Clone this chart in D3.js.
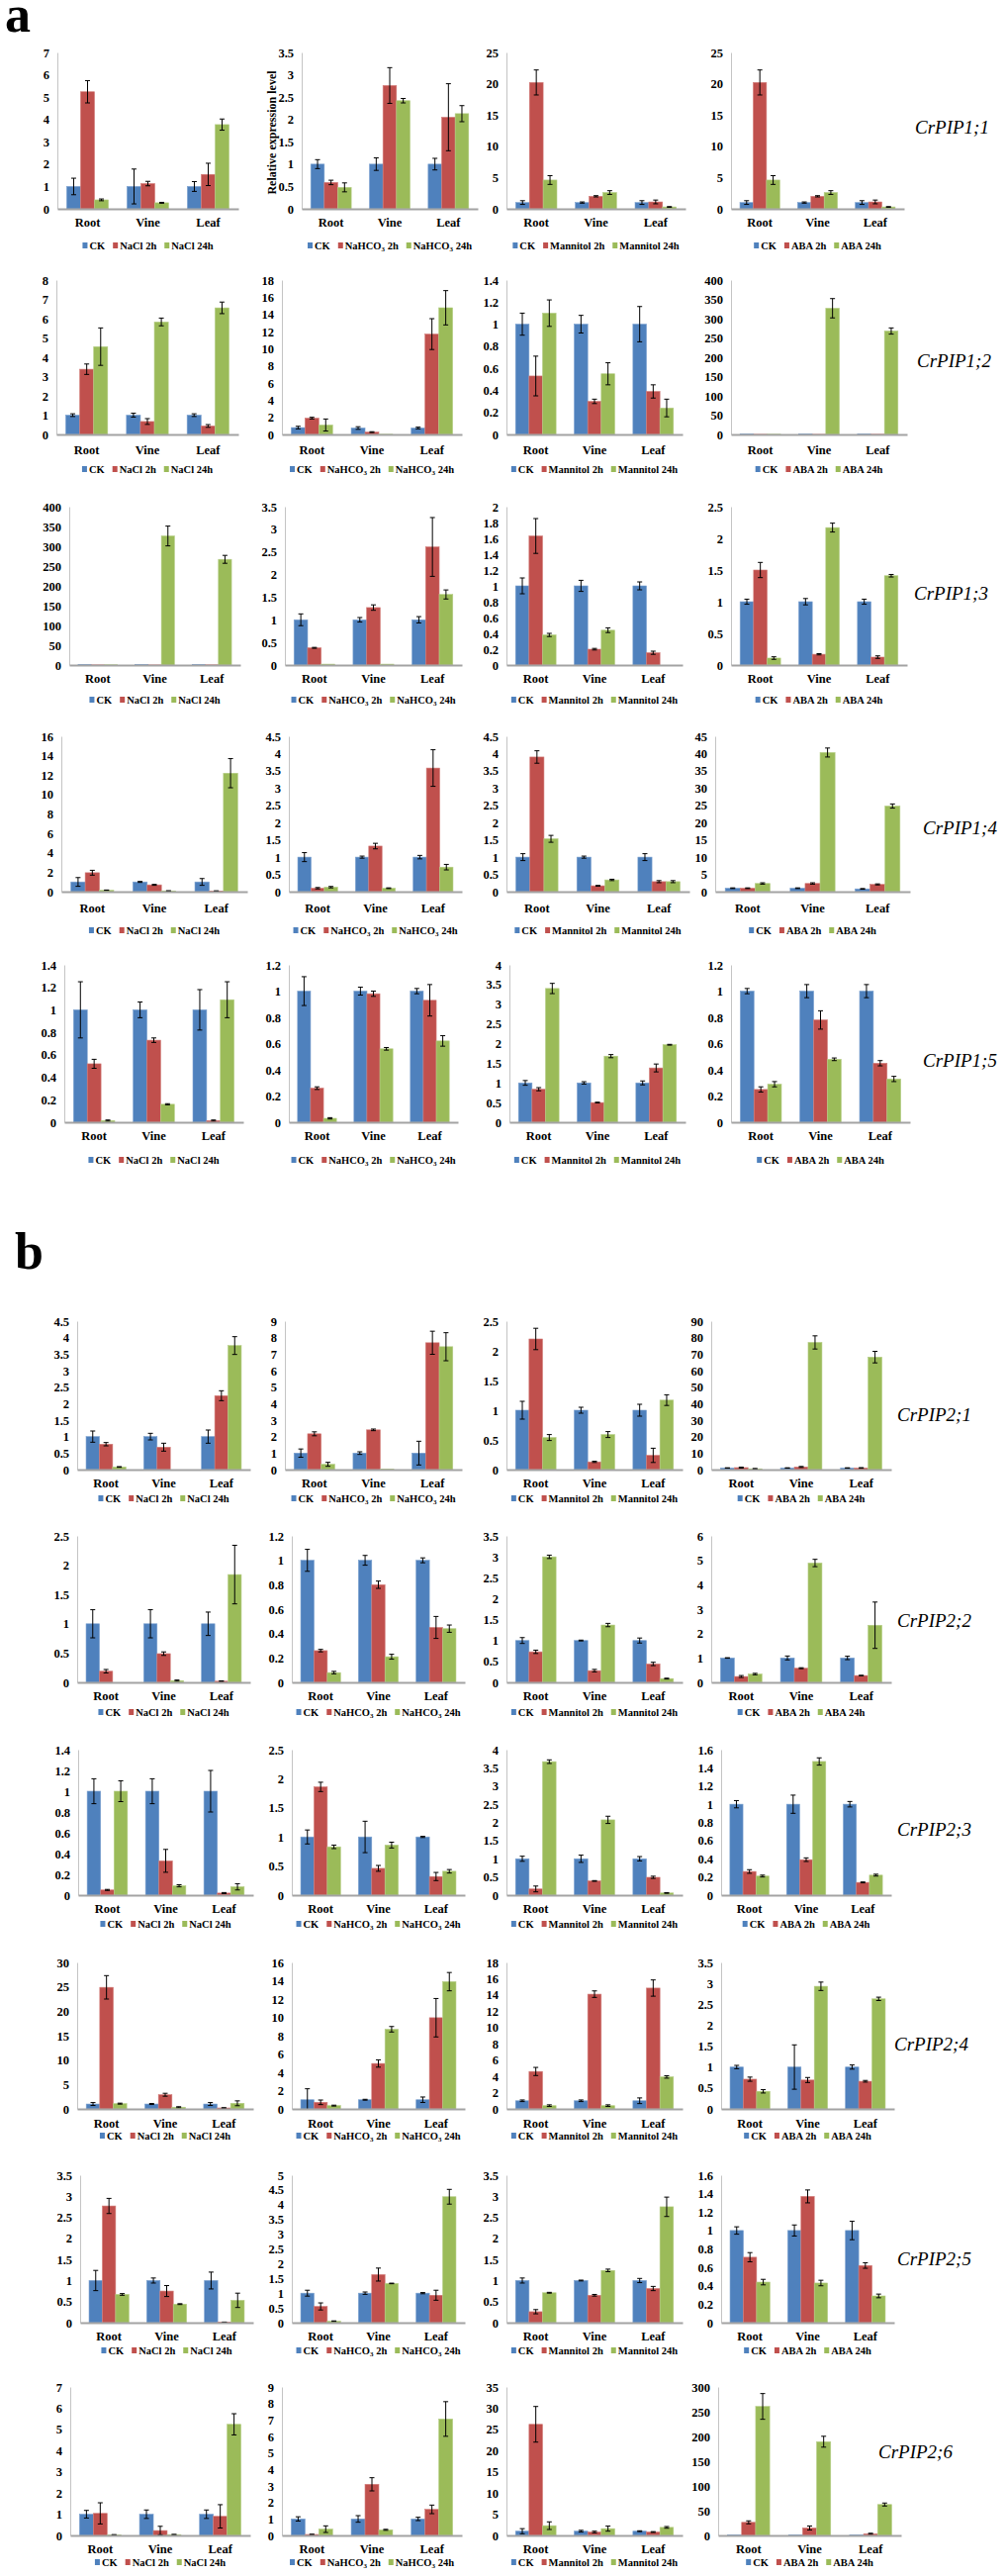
<!DOCTYPE html>
<html><head><meta charset="utf-8">
<script src="https://cdn.jsdelivr.net/npm/d3@7"></script>
<style>body{margin:0;background:#fff}svg{display:block}</style>
</head><body><svg id="c" width="1016" height="2603"></svg>
<script>
const categories = ["Root","Vine","Leaf"];
const genes = ["CrPIP1;1","CrPIP1;2","CrPIP1;3","CrPIP1;4","CrPIP1;5","CrPIP2;1","CrPIP2;2","CrPIP2;3","CrPIP2;4","CrPIP2;5","CrPIP2;6"];
const legendLabels = [["CK","NaCl 2h","NaCl 24h"],["CK","NaHCO3 2h","NaHCO3 24h"],["CK","Mannitol 2h","Mannitol 24h"],["CK","ABA 2h","ABA 24h"]];
const yLabel = "Relative expression level";

// per gene: [[CK Root,Vine,Leaf],[2h ...],[24h ...]]
const naclMean = [
 [[1,1,1],[5.24,1.13,1.54],[0.4,0.27,3.77]],
 [[1,1,1],[3.38,0.67,0.44],[4.55,5.83,6.56]],
 [[1,1,1],[0.4,0.3,0.5],[0.6,326,267]],
 [[1,1,1],[1.95,0.7,0.07],[0.15,0.08,12.2]],
 [[1,1,1],[0.52,0.73,0.015],[0.015,0.16,1.09]],
 [[1,1,1],[0.77,0.68,2.24],[0.08,0,3.76]],
 [[1,1,1],[0.19,0.49,0.02],[0,0.03,1.84]],
 [[1,1,1],[0.05,0.33,0.02],[1.0,0.09,0.08]],
 [[1,1,1],[24.9,2.9,0.2],[1.08,0.35,1.15]],
 [[1,1,1],[2.77,0.75,0.01],[0.67,0.44,0.53]],
 [[1,1,1],[1.04,0.23,0.9],[0.03,0.04,5.24]]
];
const naclErr = [
 [[0.37,0.78,0.22],[0.5,0.1,0.5],[0.04,0.02,0.25]],
 [[0.07,0.1,0.07],[0.27,0.15,0.07],[0.97,0.2,0.3]],
 [[0,0,0],[0,0,0],[0,25,10]],
 [[0.45,0.05,0.35],[0.25,0.05,0.02],[0.02,0.01,1.5]],
 [[0.25,0.07,0.18],[0.04,0.02,0.005],[0.005,0.005,0.16]],
 [[0.17,0.1,0.2],[0.05,0.12,0.15],[0.01,0,0.27]],
 [[0.24,0.24,0.2],[0.03,0.03,0.005],[0,0.01,0.5]],
 [[0.12,0.12,0.2],[0.005,0.11,0.005],[0.1,0.01,0.03]],
 [[0.3,0.1,0.3],[2.4,0.3,0.05],[0.1,0.1,0.5]],
 [[0.24,0.06,0.2],[0.18,0.13,0.005],[0.02,0.01,0.17]],
 [[0.18,0.2,0.2],[0.5,0.2,0.55],[0.01,0.01,0.5]]
];
const nahco3Mean = [
 [[1,1,1],[0.59,2.76,2.05],[0.48,2.42,2.13]],
 [[0.8,0.75,0.75],[1.9,0.27,11.7],[1.1,0.02,14.77]],
 [[1,1,1],[0.38,1.27,2.61],[0.02,0.02,1.56]],
 [[1,1,1],[0.1,1.32,3.58],[0.13,0.1,0.71]],
 [[1,1,1],[0.26,0.98,0.93],[0.03,0.56,0.62]],
 [[1,1,1],[2.17,2.41,7.69],[0.32,0.02,7.45]],
 [[1,1,1],[0.26,0.8,0.45],[0.08,0.21,0.44]],
 [[1,1,1],[1.86,0.46,0.32],[0.83,0.86,0.41]],
 [[1,1,1],[0.72,4.96,9.96],[0.36,8.7,13.9]],
 [[1,1,1],[0.55,1.63,0.93],[0.05,1.33,4.27]],
 [[1,1,1],[0.06,3.1,1.58],[0.38,0.34,7.06]]
];
const nahco3Err = [
 [[0.1,0.14,0.13],[0.05,0.4,0.75],[0.1,0.05,0.18]],
 [[0.15,0.15,0.1],[0.1,0.05,1.8],[0.7,0,2.0]],
 [[0.13,0.05,0.07],[0.01,0.06,0.65],[0,0,0.1]],
 [[0.13,0.03,0.05],[0.02,0.08,0.53],[0.02,0.01,0.08]],
 [[0.11,0.03,0.02],[0.01,0.02,0.12],[0.005,0.01,0.04]],
 [[0.25,0.08,0.72],[0.12,0.05,0.7],[0.12,0,0.85]],
 [[0.09,0.04,0.02],[0.01,0.03,0.09],[0.01,0.02,0.03]],
 [[0.12,0.27,0.01],[0.08,0.05,0.07],[0.03,0.05,0.03]],
 [[1.2,0.05,0.3],[0.25,0.4,2.1],[0.05,0.3,1.0]],
 [[0.1,0.04,0.02],[0.12,0.22,0.17],[0.01,0.01,0.25]],
 [[0.13,0.2,0.1],[0.01,0.4,0.26],[0.2,0.03,1.05]]
];
const mannitolMean = [
 [[1,1,1],[20.2,2.0,1.1],[4.6,2.6,0.3]],
 [[1,1,1],[0.53,0.3,0.39],[1.1,0.55,0.24]],
 [[1,1,1],[1.63,0.2,0.155],[0.38,0.44,0]],
 [[1,1,1],[3.9,0.17,0.29],[1.53,0.34,0.29]],
 [[1,1,1],[0.84,0.5,1.38],[3.4,1.68,1.97]],
 [[1,1,1],[2.2,0.13,0.24],[0.54,0.59,1.17]],
 [[1,1,1],[0.73,0.28,0.44],[3.0,1.37,0.09]],
 [[1,1,1],[0.17,0.39,0.49],[3.67,2.07,0.06]],
 [[1,1,1],[4.6,14.1,14.85],[0.4,0.4,3.93]],
 [[1,1,1],[0.26,0.65,0.81],[0.71,1.24,2.75]],
 [[1,1,1],[26.2,0.8,0.8],[2.3,1.6,1.9]]
];
const mannitolErr = [
 [[0.3,0.1,0.3],[2.0,0.1,0.3],[0.7,0.3,0.05]],
 [[0.1,0.08,0.16],[0.18,0.02,0.06],[0.12,0.1,0.08]],
 [[0.1,0.07,0.05],[0.22,0.01,0.02],[0.02,0.03,0]],
 [[0.1,0.03,0.1],[0.18,0.01,0.03],[0.1,0.02,0.03]],
 [[0.06,0.03,0.05],[0.04,0.01,0.1],[0.13,0.04,0.01]],
 [[0.15,0.05,0.1],[0.18,0.01,0.12],[0.05,0.05,0.09]],
 [[0.07,0.01,0.06],[0.04,0.03,0.04],[0.04,0.04,0.01]],
 [[0.07,0.1,0.06],[0.08,0.01,0.03],[0.05,0.1,0.01]],
 [[0.1,0.1,0.35],[0.5,0.4,1.0],[0.1,0.1,0.15]],
 [[0.06,0.01,0.05],[0.05,0.02,0.05],[0.01,0.03,0.23]],
 [[0.6,0.2,0.1],[4.2,0.2,0.1],[0.9,0.6,0.2]]
];
const abaMean = [
 [[1,1,1],[20.2,2.0,1.1],[4.6,2.6,0.3]],
 [[1,1,1],[0.4,0.3,0.5],[0.6,327,268]],
 [[1,1,1],[1.5,0.17,0.125],[0.11,2.17,1.41]],
 [[1,1,0.8],[1.0,2.37,2.1],[2.37,40.3,24.8]],
 [[1,1,1],[0.25,0.78,0.45],[0.29,0.48,0.33]],
 [[1,1,1],[1.2,1.6,1.0],[0.5,77.1,68.2]],
 [[1,1,1],[0.24,0.58,0.28],[0.34,4.89,2.34]],
 [[1,1,1],[0.26,0.39,0.14],[0.21,1.47,0.22]],
 [[1,1,1],[0.71,0.69,0.66],[0.42,2.93,2.63]],
 [[1,1,1],[0.71,1.37,0.62],[0.44,0.43,0.29]],
 [[1,1,1],[26.5,15,3.4],[260.7,189.4,62.5]]
];
const abaErr = [
 [[0.3,0.1,0.3],[2.0,0.1,0.3],[0.7,0.3,0.05]],
 [[0,0,0],[0,0,0],[0,25,8]],
 [[0.04,0.05,0.04],[0.12,0.01,0.02],[0.02,0.07,0.02]],
 [[0.1,0.1,0.1],[0.1,0.2,0.15],[0.2,1.3,0.6]],
 [[0.02,0.05,0.05],[0.02,0.07,0.02],[0.02,0.01,0.02]],
 [[0.1,0.1,0.1],[0.3,0.3,0.2],[0.2,4,3.5]],
 [[0.01,0.08,0.07],[0.04,0.02,0.01],[0.03,0.15,0.95]],
 [[0.04,0.1,0.03],[0.02,0.02,0.005],[0.01,0.04,0.01]],
 [[0.04,0.53,0.05],[0.05,0.06,0.02],[0.04,0.1,0.04]],
 [[0.04,0.06,0.1],[0.05,0.07,0.03],[0.03,0.03,0.02]],
 [[0,0,0],[3,4,1],[26,11,3]]
];
// y-axis maximum and step per gene row, per treatment column
const yAxisMax = [[7,3.5,25,25],[8,18,1.4,400],[400,3.5,2,2.5],[16,4.5,4.5,45],[1.4,1.2,4,1.2],
  [4.5,9,2.5,90],[2.5,1.2,3.5,6],[1.4,2.5,4,1.6],[30,16,18,3.5],[3.5,5,3.5,1.6],[7,9,35,300]];
const yAxisStep = [[1,0.5,5,5],[1,2,0.2,50],[50,0.5,0.2,0.5],[2,0.5,0.5,5],[0.2,0.2,0.5,0.2],
  [0.5,1,0.5,10],[0.5,0.2,0.5,1],[0.2,0.5,0.5,0.2],[5,2,2,0.5],[0.5,0.5,0.5,0.2],[1,1,5,50]];

// ---- layout (pixels) ----
const rowLayout = [
 {top:53, base:211, xlab:225, leg:248, ly:128, lx:925, px:[[58,241],[305,483],[512,693],[739,914]]},
 {top:283, base:439, xlab:455, leg:474, ly:364, lx:927, px:[[57,241],[285,467],[512,690],[739,917]]},
 {top:512, base:672, xlab:686, leg:707, ly:599, lx:924, px:[[70,243],[288,467],[512,690],[739,917]]},
 {top:744, base:901, xlab:918, leg:940, ly:836, lx:933, px:[[62,250],[292,467],[512,697],[723,920]]},
 {top:975, base:1134, xlab:1148, leg:1172, ly:1071, lx:933, px:[[65,246],[292,463],[515,693],[739,920]]},
 {top:1335, base:1485, xlab:1499, leg:1514, ly:1429, lx:907, px:[[78,253],[288,467],[512,690],[719,901]]},
 {top:1552, base:1700, xlab:1714, leg:1730, ly:1637, lx:907, px:[[78,253],[295,470],[512,690],[719,901]]},
 {top:1768, base:1915, xlab:1929, leg:1944, ly:1848, lx:907, px:[[79,256],[295,470],[512,690],[729,901]]},
 {top:1983, base:2131, xlab:2146, leg:2158, ly:2065, lx:904, px:[[78,256],[295,470],[512,690],[729,904]]},
 {top:2198, base:2347, xlab:2361, leg:2375, ly:2282, lx:907, px:[[81,256],[295,470],[512,690],[729,904]]},
 {top:2412, base:2562, xlab:2576, leg:2589, ly:2477, lx:888, px:[[71,253],[285,467],[512,690],[726,911]]}
];
const F = "'Liberation Serif','Times New Roman',Times,serif";
const colors = ["#4F81BD","#C0504D","#9BBB59"];
const edge = ["#7aa0cf","#d27c79","#b5cd85"];
const means = [naclMean, nahco3Mean, mannitolMean, abaMean];
const errs = [naclErr, nahco3Err, mannitolErr, abaErr];

const svg = d3.select("#c");
svg.append("rect").attr("width",1016).attr("height",2603).attr("fill","#fff");

function setLabel(t, lab){
  const m = lab.match(/^(.*HCO)3(.*)$/);
  if(m){
    t.append("tspan").text(m[1]);
    t.append("tspan").attr("font-size",7).attr("baseline-shift","-2").text("3");
    t.append("tspan").text(m[2]);
  } else t.text(lab);
}

rowLayout.forEach((L, ri) => {
  for (let ti = 0; ti < 4; ti++) {
    const [x0, x1] = L.px[ti];
    const max = yAxisMax[ri][ti], step = yAxisStep[ri][ti];
    const x = d3.scaleBand().domain(categories).range([x0, x1]);
    const y = d3.scaleLinear().domain([0, max]).range([L.base, L.top]);
    const g = svg.append("g");
    const ticks = d3.range(0, Math.round(max/step) + 1).map(i => +(i*step).toFixed(3));

    const ya = g.append("g").attr("transform", `translate(${x0},0)`)
      .call(d3.axisLeft(y).tickValues(ticks).tickSize(0).tickSizeOuter(0).tickPadding(8).tickFormat(d => String(d)));
    ya.select(".domain").attr("stroke", "#c4c4c4").attr("stroke-width", 1);
    ya.selectAll("text").attr("font-family", F).attr("font-size", 12.5).attr("font-weight", "bold").attr("fill", "#000");

    const data = [];
    for (let si = 0; si < 3; si++) categories.forEach((c, ci) =>
      data.push({c, si, v: means[ti][ri][si][ci], e: errs[ti][ri][si][ci]}));
    const bw = x.bandwidth() * 0.23;
    const bx = d => x(d.c) + x.bandwidth()/2 + (d.si - 1.5) * bw;

    g.append("g").selectAll("rect").data(data).join("rect")
      .attr("x", bx).attr("width", bw)
      .attr("y", d => y(d.v)).attr("height", d => L.base - y(d.v))
      .attr("fill", d => colors[d.si]).attr("stroke", d => edge[d.si]).attr("stroke-width", 0.6);

    const eb = g.append("g").attr("stroke", "#000").attr("stroke-width", 1).attr("fill", "none");
    data.filter(d => d.e > 0).forEach(d => {
      const cx = bx(d) + bw/2;
      const yt = y(d.v + d.e), yb = y(Math.max(0, d.v - d.e));
      eb.append("line").attr("x1", cx).attr("x2", cx).attr("y1", yt).attr("y2", yb);
      eb.append("line").attr("x1", cx - 2.5).attr("x2", cx + 2.5).attr("y1", yt).attr("y2", yt);
      if (d.v - d.e > 0) eb.append("line").attr("x1", cx - 2.5).attr("x2", cx + 2.5).attr("y1", yb).attr("y2", yb);
    });

    const xa = g.append("g").attr("transform", `translate(0,${L.base})`)
      .call(d3.axisBottom(x).tickSize(0).tickSizeOuter(0).tickPadding(L.xlab - L.base - 4.5));
    xa.select(".domain").attr("stroke", "#a3a3a3").attr("stroke-width", 1.8);
    xa.selectAll("text").attr("font-family", F).attr("font-size", 12.5).attr("font-weight", "bold").attr("fill", "#000");

    const lg = g.append("g");
    let cx = 0;
    legendLabels[ti].forEach((lab, si) => {
      const it = lg.append("g").attr("transform", `translate(${cx},0)`);
      it.append("rect").attr("x", 0).attr("y", -3).attr("width", 5).attr("height", 6).attr("fill", colors[si]);
      const t = it.append("text").attr("x", 7).attr("dy", "0.35em").attr("font-family", F)
        .attr("font-size", 10.5).attr("font-weight", "bold").attr("fill", "#000");
      setLabel(t, lab);
      cx += 7 + t.node().getComputedTextLength() + 8;
    });
    const total = cx - 8;
    lg.attr("transform", `translate(${(x0 + x1)/2 - total/2},${L.leg})`);

    if (ri === 0 && ti === 1) {
      g.append("text").attr("transform", `translate(275,${(L.top + L.base)/2 + 2}) rotate(-90)`)
        .attr("text-anchor", "middle").attr("dy", "0.35em").attr("font-family", F)
        .attr("font-size", 12).attr("font-weight", "bold").text(yLabel);
    }
  }
  svg.append("text").attr("x", L.lx).attr("y", L.ly).attr("dy", "0.35em")
    .attr("font-family", F).attr("font-style", "italic").attr("font-size", 19).text(genes[ri]);
});

svg.append("text").attr("x", 5).attr("y", 32).attr("font-family", F).attr("font-weight", "bold").attr("font-size", 52).text("a");
svg.append("text").attr("x", 15).attr("y", 1282).attr("font-family", F).attr("font-weight", "bold").attr("font-size", 52).text("b");
</script></body></html>
